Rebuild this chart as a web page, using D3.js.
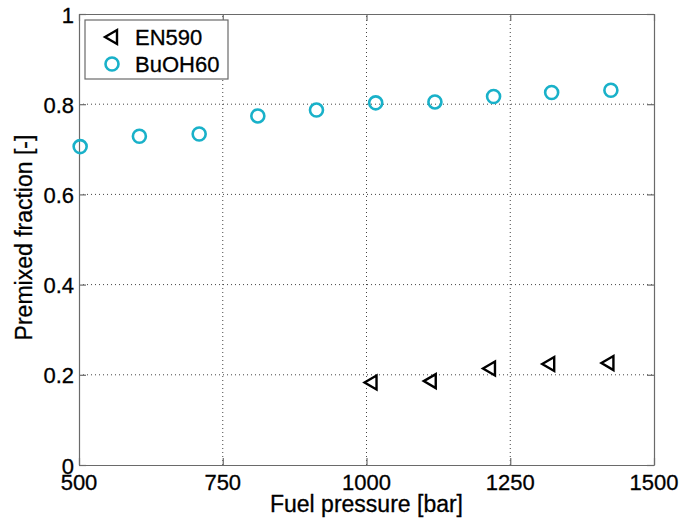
<!DOCTYPE html>
<html>
<head>
<meta charset="utf-8">
<script src="https://cdn.jsdelivr.net/npm/d3@7"></script>
<style>
  html, body { margin: 0; padding: 0; background: #fff; }
  svg { display: block; }
  text { font-family: "Liberation Sans", Arial, Helvetica, sans-serif; fill: #000; stroke: #000; stroke-width: 0.3px; }
</style>
</head>
<body>
<svg id="chart" width="693" height="519"></svg>
<script>
// Fuel injection pressure sweep: premixed combustion fraction per fuel
const en590Pressure = [1007, 1110, 1213, 1316, 1419];
const en590Fraction = [0.183, 0.186, 0.214, 0.224, 0.226];

const buoh60Pressure = [502, 605, 709, 811, 913, 1016, 1119, 1221, 1322, 1425];
const buoh60Fraction = [0.706, 0.729, 0.734, 0.774, 0.787, 0.803, 0.805, 0.817, 0.826, 0.831];

const xTicks = [500, 750, 1000, 1250, 1500];
const yTicks = [0, 0.2, 0.4, 0.6, 0.8, 1];
const yTickLabels = ["0", "0.2", "0.4", "0.6", "0.8", "1"];

const seriesNames = ["EN590", "BuOH60"];

const xTitle = "Fuel pressure [bar]";
const yTitle = "Premixed fraction [-]";

const svg = d3.select("#chart");
const margin = { left: 79, right: 39, top: 14, bottom: 54 };
const W = 693, H = 519;
const x = d3.scaleLinear().domain([500, 1500]).range([margin.left, W - margin.right]);
const y = d3.scaleLinear().domain([0, 1]).range([H - margin.bottom, margin.top]);

const cyan = "#19b1c9";
const axisGray = "#6a6a6a";

// dotted grid
const grid = svg.append("g");
grid.selectAll("line.gx").data(xTicks.slice(1, -1)).join("line")
  .attr("x1", d => x(d)).attr("x2", d => x(d))
  .attr("y1", y(0)).attr("y2", y(1))
  .attr("stroke", "#444").attr("stroke-width", 1).attr("stroke-dasharray", "1,3");
grid.selectAll("line.gy").data(yTicks.slice(1, -1)).join("line")
  .attr("y1", d => y(d)).attr("y2", d => y(d))
  .attr("x1", x(500)).attr("x2", x(1500))
  .attr("stroke", "#444").attr("stroke-width", 1).attr("stroke-dasharray", "1,3");

// axes (inward ticks on all four sides)
const axB = d3.axisBottom(x).tickValues(xTicks).tickSizeInner(-7).tickSizeOuter(0).tickFormat("");
const axT = d3.axisTop(x).tickValues(xTicks).tickSizeInner(-7).tickSizeOuter(0).tickFormat("");
const axL = d3.axisLeft(y).tickValues(yTicks).tickSizeInner(-7).tickSizeOuter(0).tickFormat("");
const axR = d3.axisRight(y).tickValues(yTicks).tickSizeInner(-7).tickSizeOuter(0).tickFormat("");
[[axB, `translate(0,${y(0)})`], [axT, `translate(0,${y(1)})`],
 [axL, `translate(${x(500)},0)`], [axR, `translate(${x(1500)},0)`]].forEach(([ax, tr]) => {
  const g = svg.append("g").attr("transform", tr).call(ax);
  g.selectAll("path, line").attr("stroke", axisGray).attr("stroke-width", 1.2);
});

// tick labels
svg.append("g").selectAll("text").data(xTicks).join("text")
  .attr("x", d => x(d)).attr("y", y(0) + 25)
  .attr("text-anchor", "middle").attr("font-size", 22)
  .text(d => d);
svg.append("g").selectAll("text").data(yTicks).join("text")
  .attr("x", x(500) - 5).attr("y", d => y(d) + 8.5)
  .attr("text-anchor", "end").attr("font-size", 22)
  .text((d, i) => yTickLabels[i]);

// axis titles
svg.append("text").attr("x", x(1000)).attr("y", 512)
  .attr("text-anchor", "middle").attr("font-size", 23).text(xTitle);
svg.append("text").attr("transform", `translate(32,${y(0.5) - 2}) rotate(-90)`)
  .attr("text-anchor", "middle").attr("font-size", 23).text(yTitle);

// markers
const tri = (cx, cy) => {
  const w = 12, h = 14;
  return `M${cx - w / 2},${cy} L${cx + w / 2},${cy - h / 2} L${cx + w / 2},${cy + h / 2} Z`;
};

svg.append("g").selectAll("circle").data(buoh60Pressure).join("circle")
  .attr("cx", d => x(d)).attr("cy", (d, i) => y(buoh60Fraction[i]))
  .attr("r", 6.5).attr("fill", "none").attr("stroke", cyan).attr("stroke-width", 2.6);

svg.append("g").selectAll("path").data(en590Pressure).join("path")
  .attr("d", (d, i) => tri(x(d), y(en590Fraction[i])))
  .attr("fill", "none").attr("stroke", "#000").attr("stroke-width", 2.4)
  .attr("stroke-linejoin", "miter");

// legend
const lg = svg.append("g");
lg.append("rect").attr("x", 85).attr("y", 20).attr("width", 143).attr("height", 59)
  .attr("fill", "#fff").attr("stroke", axisGray).attr("stroke-width", 1.2);
lg.append("path").attr("d", tri(111, 37)).attr("fill", "none")
  .attr("stroke", "#000").attr("stroke-width", 2.4);
lg.append("text").attr("x", 135).attr("y", 45).attr("font-size", 22).text(seriesNames[0]);
lg.append("circle").attr("cx", 112).attr("cy", 64).attr("r", 6.5)
  .attr("fill", "none").attr("stroke", cyan).attr("stroke-width", 2.6);
lg.append("text").attr("x", 135).attr("y", 72).attr("font-size", 22).text(seriesNames[1]);
</script>
</body>
</html>
